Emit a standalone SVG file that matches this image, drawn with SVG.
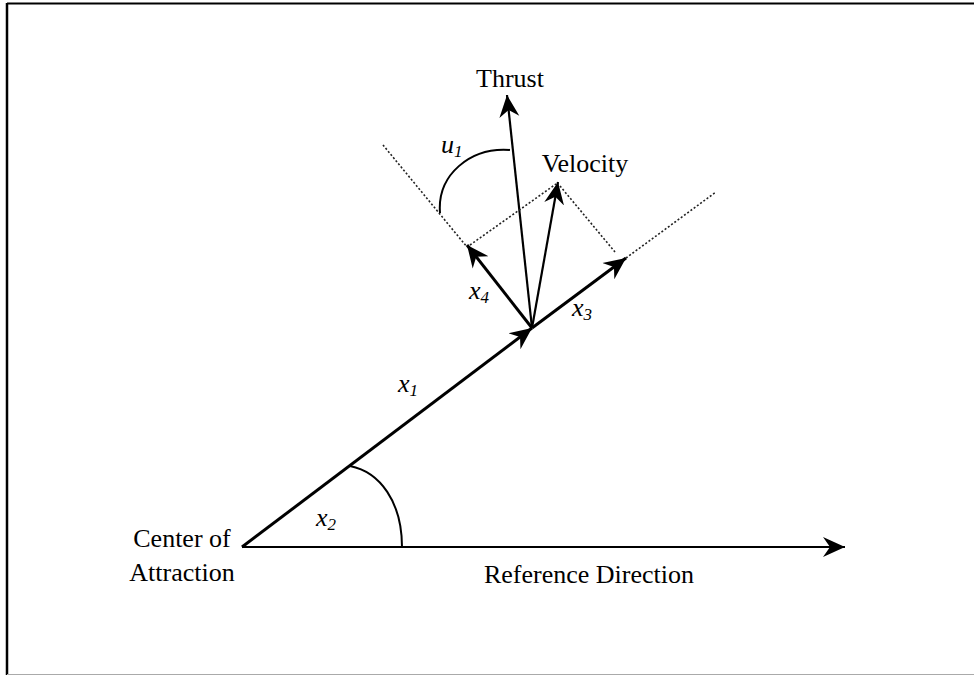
<svg xmlns="http://www.w3.org/2000/svg" width="974" height="676" viewBox="0 0 974 676">
  <style>
    .lbl { font-family: "Liberation Serif", "Times New Roman", "DejaVu Serif", serif; font-size: 26px; fill: #000; }
    .var { font-family: "Liberation Serif", "Times New Roman", "DejaVu Serif", serif; font-size: 26px; font-style: italic; fill: #000; }
    .sub { font-size: 17px; }
    .vec { stroke: #000; fill: none; stroke-linecap: butt; }
    .dot { stroke: #222; stroke-width: 1.6; stroke-dasharray: 2 2; fill: none; }
    .arc { stroke: #000; stroke-width: 2; fill: none; }
  </style>
  <defs>
    <marker id="ah" markerUnits="userSpaceOnUse" markerWidth="24" markerHeight="24" viewBox="-22 -11 24 22" refX="0" refY="0" orient="auto">
      <path d="M0,0 L-22,-10 L-15,0 L-22,10 z" fill="#000"/>
    </marker>
  </defs>
  <rect width="974" height="676" fill="#fff"/>
  <g id="frame" stroke="#000" fill="none">
    <line x1="7" y1="3.5" x2="974" y2="3.5" stroke-width="2"/>
    <line x1="7" y1="3" x2="7" y2="675" stroke-width="2.5"/>
    <line x1="7" y1="674.5" x2="974" y2="674.5" stroke-width="1" stroke="#aaa"/>
  </g>
  <g id="connectors">
    <line id="ref-dir" class="vec" x1="242" y1="547" x2="845" y2="547" stroke-width="2" marker-end="url(#ah)"/>
    <line id="x1-vec" class="vec" x1="242" y1="547" x2="532" y2="328" stroke-width="3" marker-end="url(#ah)"/>
    <line id="thrust-vec" class="vec" x1="532" y1="328" x2="507" y2="95" stroke-width="2.2" marker-end="url(#ah)"/>
    <line id="vel-vec" class="vec" x1="532" y1="328" x2="558" y2="182" stroke-width="2.2" marker-end="url(#ah)"/>
    <line id="x3-vec" class="vec" x1="532" y1="328" x2="626" y2="258" stroke-width="3" marker-end="url(#ah)"/>
    <line id="x4-vec" class="vec" x1="532" y1="328" x2="467" y2="245" stroke-width="3" marker-end="url(#ah)"/>
    <line class="dot" x1="383" y1="145" x2="467" y2="247"/>
    <line class="dot" x1="470" y1="245" x2="556" y2="184"/>
    <line class="dot" x1="560" y1="186" x2="615" y2="252"/>
    <line class="dot" x1="626" y1="258" x2="716" y2="192"/>
    <path id="arc-x2" class="arc" d="M350,466 C380,472 402,502 402,547"/>
    <path id="arc-u1" class="arc" d="M510,150 C470,147 437,175 440,213"/>
  </g>
  <g id="thrust-label"><text class="lbl" x="510" y="87" text-anchor="middle">Thrust</text></g>
  <g id="velocity-label"><text class="lbl" x="585" y="172" text-anchor="middle">Velocity</text></g>
  <g id="center-label">
    <text class="lbl" x="182" y="547" text-anchor="middle">Center of</text>
    <text class="lbl" x="182" y="581" text-anchor="middle">Attraction</text>
  </g>
  <g id="refdir-label"><text class="lbl" x="589" y="583" text-anchor="middle">Reference Direction</text></g>
  <g id="u1-label"><text class="var" x="441" y="153">u<tspan class="sub" dy="4">1</tspan></text></g>
  <g id="x1-label"><text class="var" x="398" y="392">x<tspan class="sub" dy="4">1</tspan></text></g>
  <g id="x2-label"><text class="var" x="316" y="526">x<tspan class="sub" dy="4">2</tspan></text></g>
  <g id="x3-label"><text class="var" x="572" y="316">x<tspan class="sub" dy="4">3</tspan></text></g>
  <g id="x4-label"><text class="var" x="469" y="299">x<tspan class="sub" dy="4">4</tspan></text></g>
</svg>
